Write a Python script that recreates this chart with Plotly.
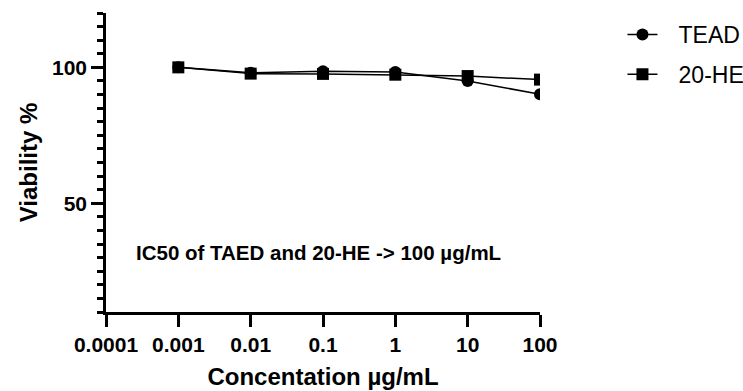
import plotly.graph_objects as go

conc = [0.001, 0.01, 0.1, 1, 10, 100]
tead = [100.0, 98.0, 98.6, 98.3, 95.0, 90.1]
he20 = [100.0, 97.7, 97.6, 97.3, 96.8, 95.5]
xtick_vals = [0.0001, 0.001, 0.01, 0.1, 1, 10, 100]
xtick_text = ["0.0001", "0.001", "0.01", "0.1", "1", "10", "100"]

FONT = "Liberation Sans, Arial, sans-serif"
PAD = "\u2002\u2009"

fig = go.Figure()
fig.add_trace(go.Scatter(x=conc, y=he20, name=PAD + "20-HE", mode="lines+markers",
                         line=dict(color="black", width=1.5),
                         marker=dict(symbol="square", size=12, color="black"),
                         legendrank=2, legendgroup="b"))
fig.add_trace(go.Scatter(x=conc, y=tead, name=PAD + "TEAD", mode="lines+markers",
                         line=dict(color="black", width=1.5),
                         marker=dict(symbol="circle", size=12, color="black"),
                         legendrank=1, legendgroup="a"))

fig.update_layout(
    width=743, height=391,
    margin=dict(l=106, r=203, t=13, b=79, autoexpand=False),
    plot_bgcolor="white", paper_bgcolor="white",
    font=dict(family=FONT, color="black"),
    showlegend=True,
    legend=dict(x=1.19, xanchor="left", y=1.0, yanchor="top",
                font=dict(size=23, family=FONT, color="black"),
                itemwidth=30, tracegroupgap=7, traceorder="grouped",
                bgcolor="rgba(0,0,0,0)"),
    xaxis=dict(type="log", range=[-4, 2], tickvals=xtick_vals, ticktext=xtick_text,
               showgrid=False, zeroline=False, showline=True, linecolor="black", linewidth=2.5,
               ticks="outside", ticklen=12, tickwidth=2.5, tickcolor="black",
               tickfont=dict(size=21, family=FONT, weight="bold"),
               title=dict(text="<b>Concentation µg/mL</b>", font=dict(size=24, family=FONT), standoff=14)),
    yaxis=dict(range=[10, 120], tickmode="array", tickvals=[50, 100],
               showgrid=False, zeroline=False, showline=True, linecolor="black", linewidth=2.5,
               ticks="outside", ticklen=12, tickwidth=2.5, tickcolor="black",
               tickfont=dict(size=21, family=FONT, weight="bold"),
               minor=dict(tickmode="linear", tick0=0, dtick=5, ticks="outside", ticklen=6,
                          tickwidth=2.5, tickcolor="black", showgrid=False),
               title=dict(text="<b>Viability %</b>", font=dict(size=24, family=FONT), standoff=8)),
    annotations=[dict(text="<b>IC50 of TAED and 20-HE -> 100 µg/mL</b>", xref="paper", yref="paper",
                      x=0.4885, y=0.154, showarrow=False, font=dict(size=20.5, family=FONT, color="black"))],
)

fig.write_html("out.html")
